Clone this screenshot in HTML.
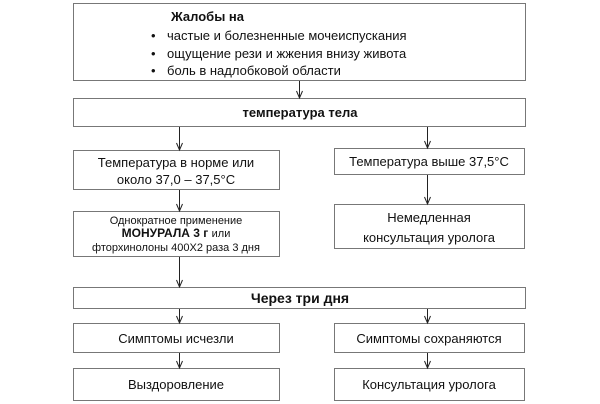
<!DOCTYPE html>
<html><head><meta charset="utf-8"><style>
html,body{margin:0;padding:0;background:#fff;}
svg{display:block;}
text{font-family:"Liberation Sans",Arial,sans-serif;fill:#111;}
</style></head><body>
<svg width="600" height="404" viewBox="0 0 600 404" xmlns="http://www.w3.org/2000/svg">
<g fill="#fff" stroke="#777" stroke-width="1">
<rect x="73.5" y="3.5" width="452" height="77"/>
<rect x="73.5" y="98.5" width="452" height="28"/>
<rect x="73.5" y="150.5" width="206" height="39"/>
<rect x="334.5" y="148.5" width="190" height="26"/>
<rect x="73.5" y="211.5" width="206" height="45"/>
<rect x="334.5" y="204.5" width="190" height="44"/>
<rect x="73.5" y="287.5" width="452" height="21"/>
<rect x="73.5" y="323.5" width="206" height="29"/>
<rect x="334.5" y="323.5" width="190" height="29"/>
<rect x="73.5" y="368.5" width="206" height="32"/>
<rect x="334.5" y="368.5" width="190" height="32"/>
</g>
<g stroke="#222" stroke-width="1" fill="none">
<path d="M299.5 81V98M296.5 91L299.5 98L302.5 91"/>
<path d="M179.5 127V150M176.5 143L179.5 150L182.5 143"/>
<path d="M427.5 127V148M424.5 141L427.5 148L430.5 141"/>
<path d="M179.5 190V211M176.5 204L179.5 211L182.5 204"/>
<path d="M427.5 175V204M424.5 197L427.5 204L430.5 197"/>
<path d="M179.5 257V287M176.5 280L179.5 287L182.5 280"/>
<path d="M179.5 309V323M176.5 316L179.5 323L182.5 316"/>
<path d="M427.5 309V323M424.5 316L427.5 323L430.5 316"/>
<path d="M179.5 353V368M176.5 361L179.5 368L182.5 361"/>
<path d="M427.5 353V368M424.5 361L427.5 368L430.5 361"/>
</g>
<g font-size="13">
<text x="171" y="21" font-weight="bold">Жалобы на</text>
<text x="151" y="40">•</text><text x="167" y="40">частые и болезненные мочеиспускания</text>
<text x="151" y="58">•</text><text x="167" y="58">ощущение рези и жжения внизу живота</text>
<text x="151" y="75">•</text><text x="167" y="75">боль в надлобковой области</text>
<text x="300" y="117" text-anchor="middle" font-weight="bold">температура тела</text>
<text x="176" y="167" text-anchor="middle">Температура в норме или</text>
<text x="176" y="184" text-anchor="middle">около 37,0 – 37,5°С</text>
<text x="429" y="166" text-anchor="middle">Температура выше 37,5°С</text>
<text x="429" y="222" text-anchor="middle">Немедленная</text>
<text x="429" y="242" text-anchor="middle">консультация уролога</text>
<text x="300" y="303" text-anchor="middle" font-weight="bold" font-size="14">Через три дня</text>
<text x="176" y="343" text-anchor="middle">Симптомы исчезли</text>
<text x="429" y="343" text-anchor="middle">Симптомы сохраняются</text>
<text x="176" y="389" text-anchor="middle">Выздоровление</text>
<text x="429" y="389" text-anchor="middle">Консультация уролога</text>
</g>
<g font-size="11" text-anchor="middle">
<text x="176" y="224">Однократное применение</text>
<text x="176" y="237" font-weight="bold" font-size="12">МОНУРАЛА 3 г <tspan font-weight="normal" font-size="11">или</tspan></text>
<text x="176" y="251">фторхинолоны 400Х2 раза 3 дня</text>
</g>
</svg>
</body></html>
